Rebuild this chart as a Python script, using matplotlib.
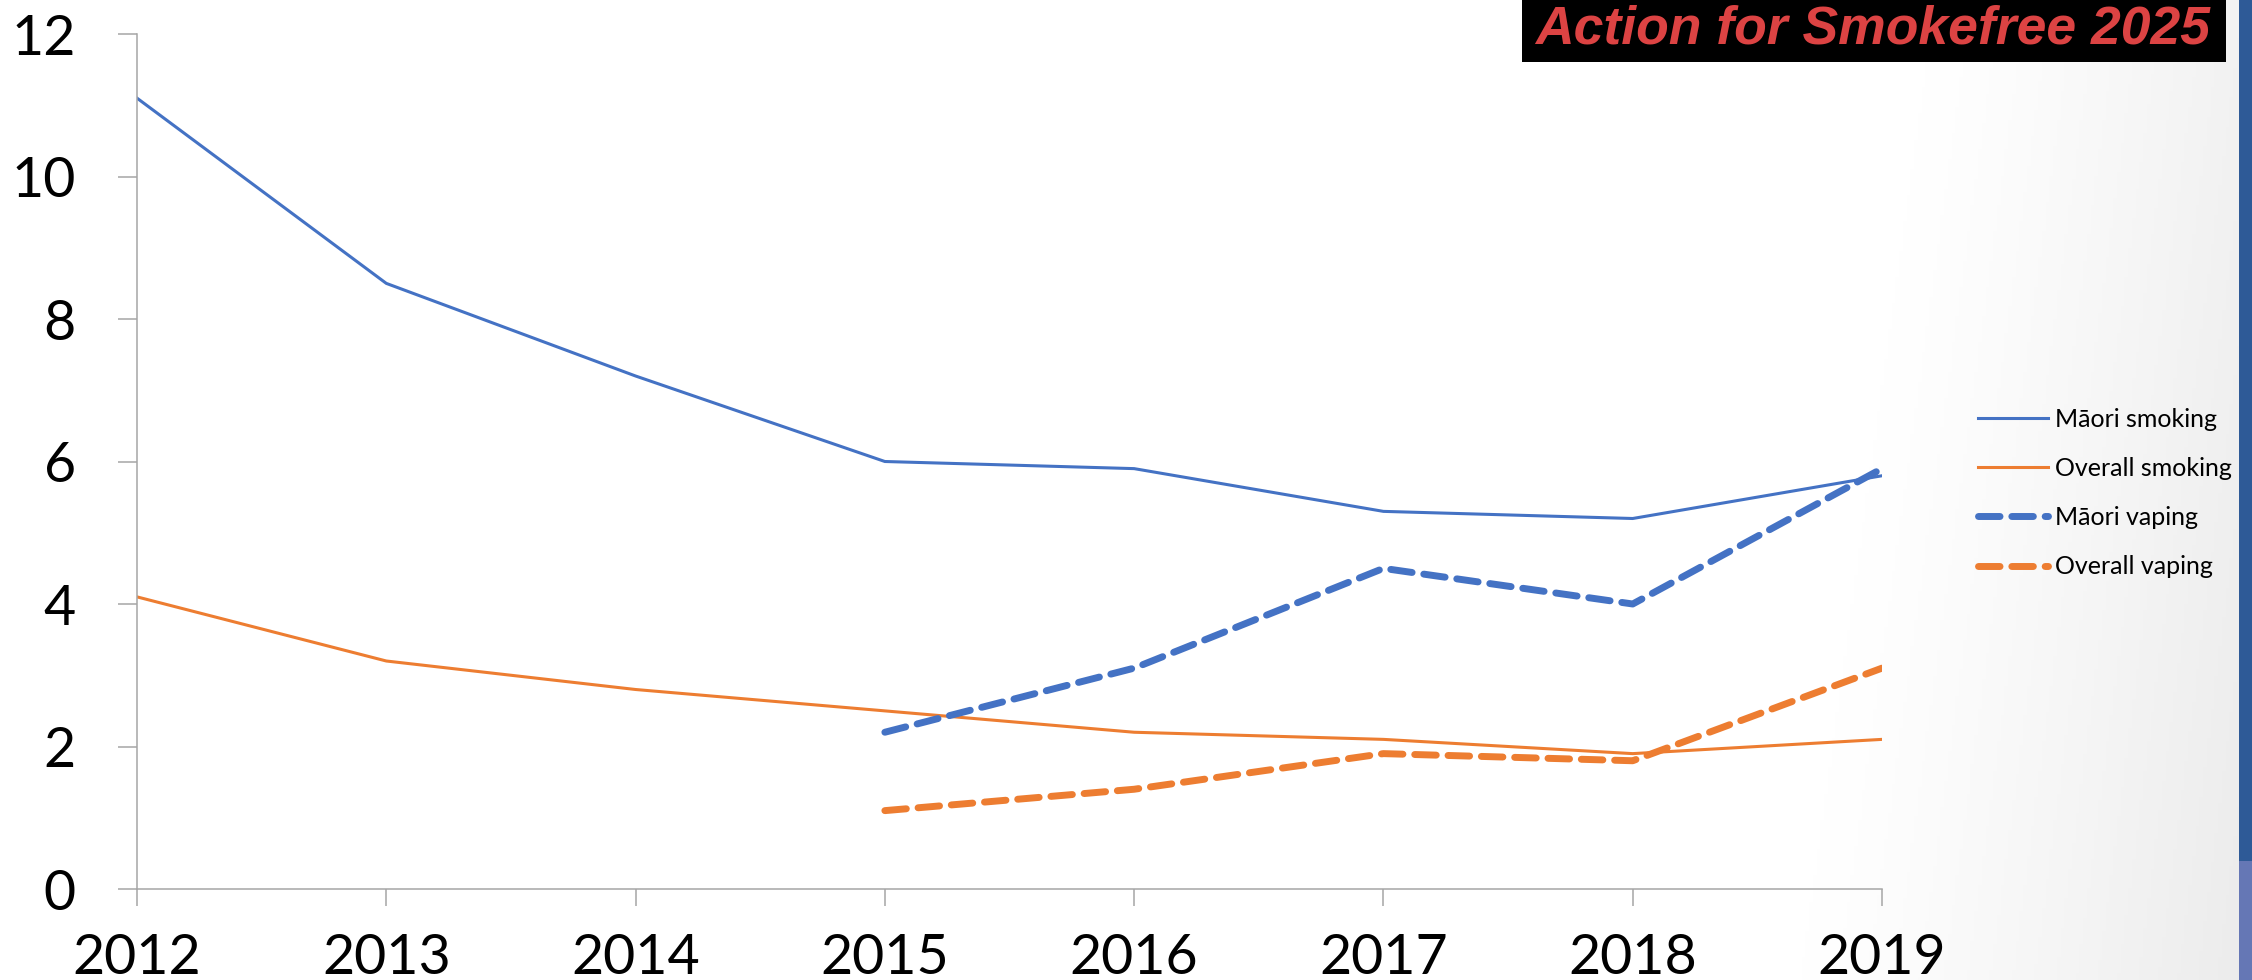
"""Smoking and vaping rates, Maori vs overall, 2012-2019"""

import numpy as np
import matplotlib.pyplot as plt
from matplotlib.patches import Rectangle

years = [2012, 2013, 2014, 2015, 2016, 2017, 2018, 2019]
maori_smoking = [11.1, 8.5, 7.2, 6.0, 5.9, 5.3, 5.2, 5.8]
overall_smoking = [4.1, 3.2, 2.8, 2.5, 2.2, 2.1, 1.9, 2.1]
vape_years = [2015, 2016, 2017, 2018, 2019]
maori_vaping = [2.2, 3.1, 4.5, 4.0, 5.9]
overall_vaping = [1.1, 1.4, 1.9, 1.8, 3.1]
y_ticks = [0, 2, 4, 6, 8, 10, 12]

BLUE = "#4472C4"
ORANGE = "#ED7D31"
AXIS_GREY = "#a6a6a6"
FONT = ["Lato", "DejaVu Sans"]


def main():
    fig = plt.figure(figsize=(22.52, 9.8), dpi=100)

    # slide background: white fading to light grey at the right edge
    bg = fig.add_axes([0, 0, 1, 1], zorder=-10)
    xx, yy = np.meshgrid(np.linspace(0, 1, 600), np.linspace(0, 1, 300))
    x0 = 0.86 - 0.06 * yy
    t = np.clip((xx - x0) / (0.995 - x0), 0, 1) ** 1.2
    grey = 1.0 - t * (0.05 + 0.025 * yy)
    bg.imshow(np.dstack([grey, grey, grey]), extent=[0, 1, 0, 1],
              aspect="auto", origin="upper")
    bg.add_patch(Rectangle((2239 / 2252, 119 / 980), 13 / 2252, 861 / 980,
                           color="#2E5A97", lw=0))
    bg.add_patch(Rectangle((2239 / 2252, 0), 13 / 2252, 119 / 980,
                           color="#6577B5", lw=0))
    bg.add_patch(Rectangle((1522 / 2252, 1 - 62 / 980), 704 / 2252, 62 / 980,
                           color="black", lw=0))
    bg.text(1873 / 2252, 1 - 30 / 980, "Action for Smokefree 2025",
            ha="center", va="center", color="#dc4343", fontsize=38.5,
            fontweight="bold", fontstyle="italic",
            family=["Liberation Sans", "DejaVu Sans"])
    bg.set_xlim(0, 1)
    bg.set_ylim(0, 1)
    bg.axis("off")

    ax = fig.add_axes([137 / 2252, 1 - 889 / 980, (1882 - 137) / 2252,
                       (889 - 34) / 980])
    ax.set_facecolor("none")

    ax.plot(years, maori_smoking, color=BLUE, lw=2.2, label="M\u0101ori smoking")
    ax.plot(years, overall_smoking, color=ORANGE, lw=2.2, label="Overall smoking")
    ax.plot(vape_years, maori_vaping, color=BLUE, lw=5, dashes=(3.1, 1.7),
            dash_capstyle="round", label="M\u0101ori vaping")
    ax.plot(vape_years, overall_vaping, color=ORANGE, lw=5, dashes=(3.1, 1.7),
            dash_capstyle="round", label="Overall vaping")

    ax.set_xlim(2012, 2019)
    ax.set_ylim(0, 12)
    ax.set_xticks(years)
    ax.set_yticks(y_ticks)
    for side in ("top", "right"):
        ax.spines[side].set_visible(False)
    for side in ("left", "bottom"):
        ax.spines[side].set_color(AXIS_GREY)
        ax.spines[side].set_linewidth(1.1)
    ax.tick_params(axis="y", length=14, width=1.1, color=AXIS_GREY, pad=30)
    ax.tick_params(axis="x", length=12, width=1.1, color=AXIS_GREY, pad=20)
    for lbl in ax.get_xticklabels() + ax.get_yticklabels():
        lbl.set_family(FONT)
        lbl.set_fontsize(40)

    fig.legend(loc="center left", bbox_to_anchor=(1978 / 2252, 1 - 493 / 980),
               frameon=False, prop={"family": FONT, "size": 18},
               handlelength=2.8, handletextpad=0.28, labelspacing=1.05,
               borderpad=0, borderaxespad=0)

    fig.savefig("out.png", dpi=100)


main()
